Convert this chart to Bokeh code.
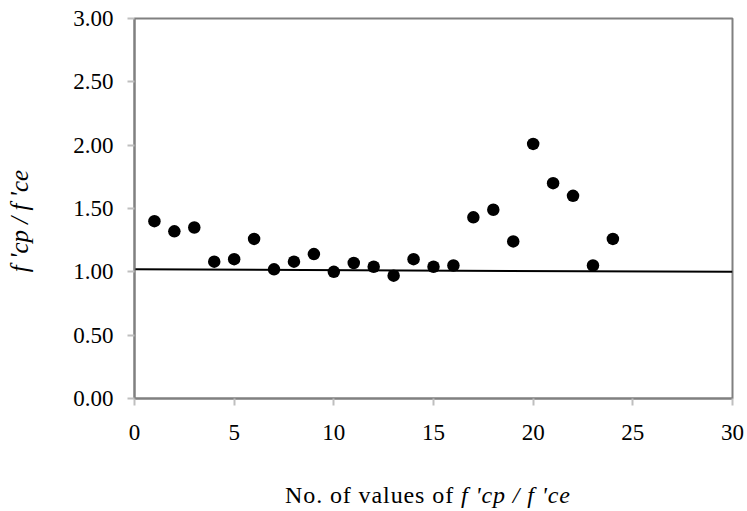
from bokeh.plotting import figure
from bokeh.models import Range1d, FixedTicker, PrintfTickFormatter, Div
from bokeh.layouts import column
from bokeh.embed import file_html
from bokeh.resources import INLINE

# data
sample_no = [1, 2, 3, 4, 5, 6, 7, 8, 9, 10, 11, 12, 13, 14, 15, 16, 17, 18, 19, 20, 21, 22, 23, 24]
ratio = [1.40, 1.32, 1.35, 1.08, 1.10, 1.26, 1.02, 1.08, 1.14, 1.00, 1.07, 1.04, 0.97, 1.10,
         1.04, 1.05, 1.43, 1.49, 1.24, 2.01, 1.70, 1.60, 1.05, 1.26]
trend_x = [0, 30]
trend_y = [1.02, 1.00]
x_ticks = [0, 5, 10, 15, 20, 25, 30]
y_ticks = [0.0, 0.5, 1.0, 1.5, 2.0, 2.5, 3.0]

FONT = "Liberation Serif"

p = figure(width=747, height=482, output_backend="svg", toolbar_location=None,
           x_range=Range1d(0, 30), y_range=Range1d(0, 3),
           min_border_left=134, min_border_right=15, min_border_top=18, min_border_bottom=84)

p.xgrid.visible = False
p.ygrid.visible = False
p.outline_line_color = "#808080"
p.outline_line_width = 2

for ax in (p.xaxis[0], p.yaxis[0]):
    ax.axis_line_color = "#808080"
    ax.axis_line_width = 2
    ax.major_tick_line_color = "#bfbfbf"
    ax.major_tick_line_width = 2
    ax.major_tick_in = 0
    ax.major_tick_out = 7
    ax.minor_tick_line_color = None
    ax.major_label_text_font = FONT
    ax.major_label_text_font_size = "23px"
    ax.major_label_text_color = "black"

p.xaxis.ticker = FixedTicker(ticks=x_ticks)
p.yaxis.ticker = FixedTicker(ticks=y_ticks)
p.yaxis.formatter = PrintfTickFormatter(format="%.2f")
p.xaxis.major_label_standoff = 19
p.yaxis.major_label_standoff = 14

p.yaxis.axis_label = "f 'cp / f 'ce\u00a0\u00a0\u00a0\u00a0"
p.yaxis.axis_label_text_font = FONT
p.yaxis.axis_label_text_font_style = "italic"
p.yaxis.axis_label_text_font_size = "25px"
p.yaxis.axis_label_text_color = "black"
p.yaxis.axis_label_standoff = 37

p.line(trend_x, trend_y, line_color="black", line_width=2)
p.scatter(sample_no, ratio, size=12.5, marker="circle", fill_color="black", line_color=None)

xtitle = Div(
    text=('<div style="font-family:\'Liberation Serif\'; font-size:24px; line-height:26px; '
          'letter-spacing:0.9px; white-space:nowrap; padding-left:285px; color:black;">'
          'No. of values of&nbsp;<i>f \'cp / f \'ce</i></div>'),
    width=747, height=28, margin=0)

layout = column(p, xtitle, spacing=0)

open("out.html", "w").write(file_html(layout, INLINE))
